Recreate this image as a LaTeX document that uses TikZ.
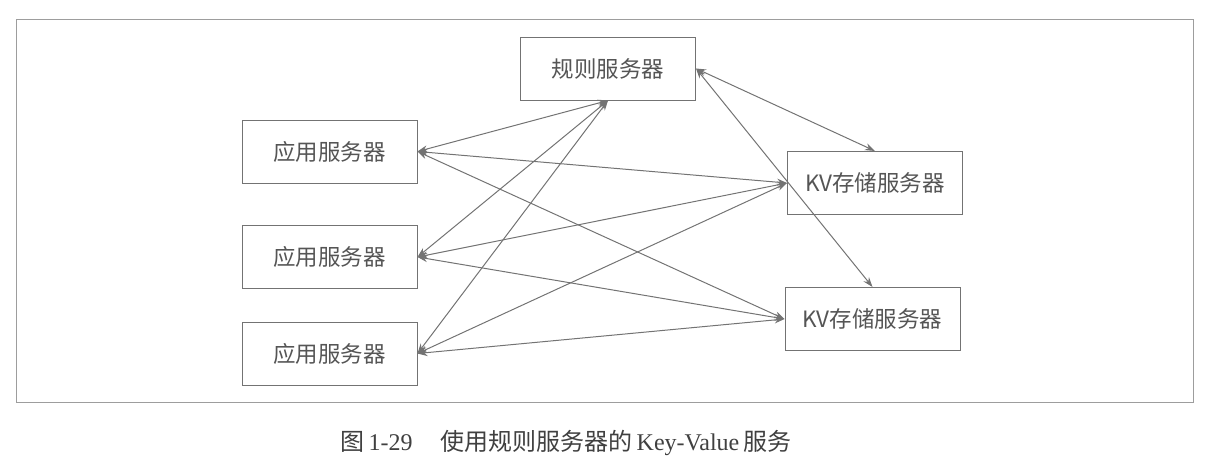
\documentclass[tikz,border=0pt]{standalone}
\usepackage{fontspec}
\newfontfamily\cjk{Noto Sans CJK SC}
\newfontfamily\latin{Liberation Serif}
\usetikzlibrary{arrows.meta}
\definecolor{linegray}{RGB}{115,115,115}
\definecolor{textgray}{RGB}{85,85,85}
\begin{document}
\begin{tikzpicture}[
        x=1pt, y=-1pt,
        box/.style={rectangle, draw=linegray, line width=1pt, minimum width=175pt, minimum height=63pt, inner sep=0pt, font=\cjk\fontsize{22.5}{25}\selectfont, text=textgray},
        link/.style={{Stealth[length=10pt,width=7pt]}-{Stealth[length=10pt,width=7pt]}, linegray, line width=1pt}
    ]
    \useasboundingbox (0,0) rectangle (1224,475);
    \draw[linegray!70, line width=1pt] (16,19) rectangle (1193,402);
    % Nodes
    \node[box] (rule) at (608, 68.5) {规则服务器};
    \node[box] (app1) at (329.5, 151.5) {应用服务器};
    \node[box] (app2) at (329.5, 257) {应用服务器};
    \node[box] (app3) at (329.5, 353.5) {应用服务器};
    \node[box] (kv1) at (875, 183) {KV存储服务器};
    \node[box] (kv2) at (872.5, 319) {KV存储服务器};
    \node[text=black!75, font=\fontsize{24}{27}\selectfont] (cap) at (566, 443)
        {{\cjk 图}\,{\latin 1-29}\hspace{28pt}{\cjk 使用规则服务器的}\,{\latin Key-Value}\,{\cjk 服务}};
    % Edges
    \foreach \a in {app1, app2, app3} {
        \draw[link] (\a.east) -- (rule.south);
        \draw[link] (\a.east) -- (kv1.west);
        \draw[link] (\a.east) -- (kv2.west);
    }
    \draw[link] (rule.east) -- (kv1.north);
    \draw[link] (rule.east) -- (kv2.north);
\end{tikzpicture}
\end{document}
